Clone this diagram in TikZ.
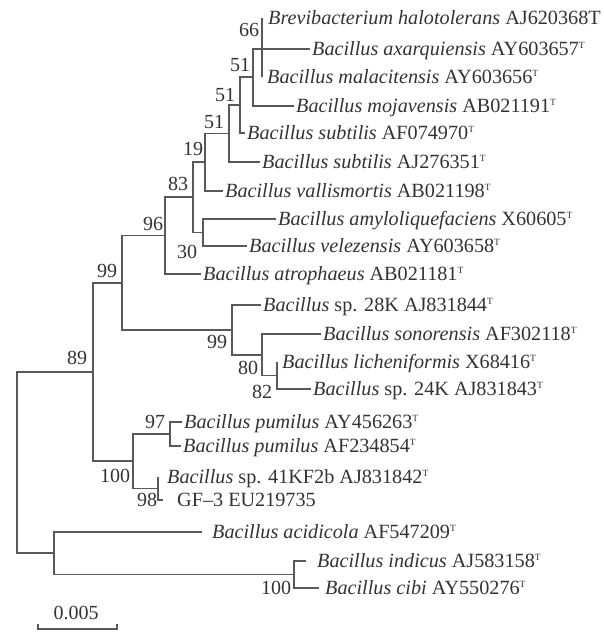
\documentclass[tikz,border=0pt]{standalone}
\usepackage{fontspec}
\setmainfont{Liberation Serif}
\newcommand{\typ}{\raisebox{7pt}{\fontsize{9.5pt}{9.5pt}\selectfont T}}
\begin{document}
\begin{tikzpicture}[x=1pt,y=-1pt,
  leaf/.style={anchor=west,inner xsep=2pt,inner ysep=0pt,text height=13.4pt,text depth=0pt,
               font=\fontsize{20.2}{23}\selectfont,text=black!80},
  bs/.style={inner sep=0pt,font=\fontsize{20}{23}\selectfont,text=black!80},
  br/.style={draw=black!65,line width=1.1pt}]
\useasboundingbox (0,0) rectangle (604,633);

% ---- leaves ----
\node[leaf] (brev) at (266,18) {{\itshape Brevibacterium halotolerans} AJ620368T};
\node[leaf] (axar) at (310,49) {{\itshape Bacillus axarquiensis} AY603657\typ};
\node[leaf] (mala) at (265,77) {{\itshape Bacillus malacitensis} AY603656\typ};
\node[leaf] (moja) at (294,106) {{\itshape Bacillus mojavensis} AB021191\typ};
\node[leaf] (subA) at (245,133) {{\itshape Bacillus subtilis} AF074970\typ};
\node[leaf] (subB) at (260,162) {{\itshape Bacillus subtilis} AJ276351\typ};
\node[leaf] (vall) at (223,191) {{\itshape Bacillus vallismortis} AB021198\typ};
\node[leaf] (amyl) at (276,219) {{\itshape Bacillus amyloliquefaciens} X60605\typ};
\node[leaf] (vele) at (247,246) {{\itshape Bacillus velezensis} AY603658\typ};
\node[leaf] (atro) at (201,274) {{\itshape Bacillus atrophaeus} AB021181\typ};
\node[leaf] (sp28) at (261,305) {{\itshape Bacillus} sp. 28K AJ831844\typ};
\node[leaf] (sono) at (321,334) {{\itshape Bacillus sonorensis} AF302118\typ};
\node[leaf] (lich) at (280,362) {{\itshape Bacillus licheniformis} X68416\typ};
\node[leaf] (sp24) at (311,389) {{\itshape Bacillus} sp. 24K AJ831843\typ};
\node[leaf] (pum1) at (182,422) {{\itshape Bacillus pumilus} AY456263\typ};
\node[leaf] (pum2) at (181,446) {{\itshape Bacillus pumilus} AF234854\typ};
\node[leaf] (sp41) at (165,477) {{\itshape Bacillus} sp. 41KF2b AJ831842\typ};
\node[leaf] (gf3)  at (175,500) {GF–3 EU219735};
\node[leaf] (acid) at (210,532) {{\itshape Bacillus acidicola} AF547209\typ};
\node[leaf] (indi) at (315,561) {{\itshape Bacillus indicus} AJ583158\typ};
\node[leaf] (cibi) at (323,588) {{\itshape Bacillus cibi} AY550276\typ};

% ---- internal nodes ----
\coordinate (n66)   at (262,49);
\coordinate (n51a)  at (253,77);
\coordinate (n51b)  at (240,105);
\coordinate (n51c)  at (229,133.5);
\coordinate (n19)   at (205,162);
\coordinate (n30)   at (203,232.5);
\coordinate (n83)   at (193,197);
\coordinate (n96)   at (165,235.5);
\coordinate (n82)   at (277,375.5);
\coordinate (n80)   at (262,355);
\coordinate (n99b)  at (232,330);
\coordinate (n99a)  at (122,283);
\coordinate (n97)   at (170,434);
\coordinate (n98)   at (158,488.5);
\coordinate (n100a) at (133,461);
\coordinate (n89)   at (93,372);
\coordinate (n100b) at (294,574.5);
\coordinate (nacid) at (54,553);
\coordinate (root)  at (17,462.5);

% ---- branches ----
\draw[br] (n66) -- (n66 |- brev.west);
\draw[br] (n66) -- (n66 |- mala.west);
\draw[br] (n66) -- (axar.west);
\draw[br] (n51a) |- (n66);
\draw[br] (n51a) |- (moja.west);
\draw[br] (n51b) |- (n51a);
\draw[br] (n51b) |- (subA.west);
\draw[br] (n51c) |- (n51b);
\draw[br] (n51c) |- (subB.west);
\draw[br] (n19) |- (n51c);
\draw[br] (n19) |- (vall.west);
\draw[br] (n30) |- (amyl.west);
\draw[br] (n30) |- (vele.west);
\draw[br] (n83) |- (n19);
\draw[br] (n83) |- (n30);
\draw[br] (n96) |- (n83);
\draw[br] (n96) |- (atro.west);
\draw[br] (n82) -- (n82 |- lich.west);
\draw[br] (n82) |- (sp24.west);
\draw[br] (n80) |- (sono.west);
\draw[br] (n80) |- (n82);
\draw[br] (n99b) |- (sp28.west);
\draw[br] (n99b) |- (n80);
\draw[br] (n99a) |- (n96);
\draw[br] (n99a) |- (n99b);
\draw[br] (n97) |- (pum1.west);
\draw[br] (n97) |- (pum2.west);
\draw[br] (n98) -- (n98 |- sp41.west);
\draw[br] (n98) |- ([xshift=-12pt]gf3.west);
\draw[br] (n100a) |- (n97);
\draw[br] (n100a) |- (n98);
\draw[br] (n89) |- (n99a);
\draw[br] (n89) |- (n100a);
\draw[br] (n100b) |- ([xshift=-9pt]indi.west);
\draw[br] (n100b) |- ([xshift=-4pt]cibi.west);
\draw[br] (nacid) |- ([xshift=-8pt]acid.west);
\draw[br] (nacid) |- (n100b);
\draw[br] (root) |- (n89);
\draw[br] (root) |- (nacid);

% ---- bootstrap values ----
\node[bs] (b66)  at (249,30) {66};
\node[bs] (b51a) at (240,65) {51};
\node[bs] (b51b) at (225,95) {51};
\node[bs] (b51c) at (214,122) {51};
\node[bs] (b19)  at (193,149) {19};
\node[bs] (b83)  at (178,184) {83};
\node[bs] (b96)  at (153,224) {96};
\node[bs] (b30)  at (187,252) {30};
\node[bs] (b99a) at (107,271) {99};
\node[bs] (b99b) at (217,342) {99};
\node[bs] (b80)  at (248,368) {80};
\node[bs] (b82)  at (262,392) {82};
\node[bs] (b89)  at (77,358) {89};
\node[bs] (b97)  at (155,422) {97};
\node[bs] (b100a) at (115,476) {100};
\node[bs] (b98)  at (147,500) {98};
\node[bs] (b100b) at (276,588) {100};

% ---- scale bar ----
\coordinate (sbL) at (38,629);
\coordinate (sbR) at (117,629);
\draw[br] ([yshift=5pt]sbL) -- (sbL) -- (sbR) -- ([yshift=5pt]sbR);
\node[bs] (scl) at (76,613) {0.005};
\end{tikzpicture}
\end{document}
